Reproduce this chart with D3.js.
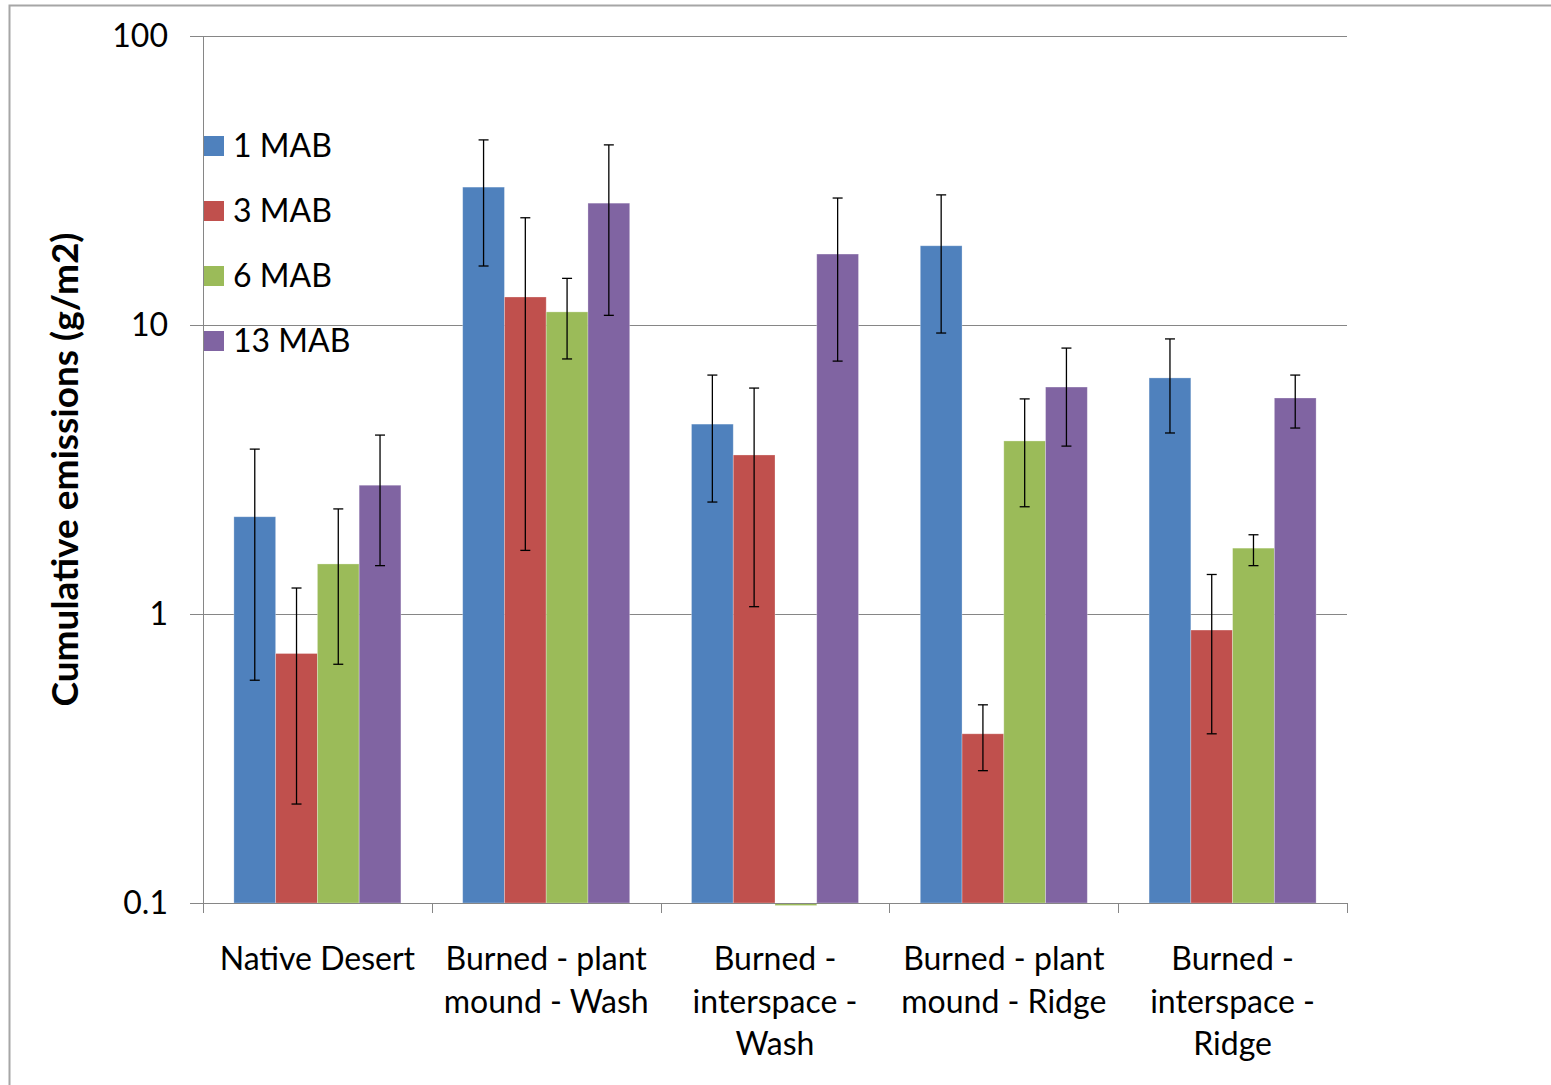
<!DOCTYPE html>
<html>
<head>
<meta charset="utf-8">
<script src="https://cdn.jsdelivr.net/npm/d3@7"></script>
<style>
  body { margin: 0; background: #fff; }
  svg { display: block; font-family: Lato, "Open Sans", sans-serif; }
</style>
</head>
<body>
<div id="chart"></div>
<script>
// categories and series
const categories = [
  ["Native Desert"],
  ["Burned - plant", "mound - Wash"],
  ["Burned -", "interspace -", "Wash"],
  ["Burned - plant", "mound - Ridge"],
  ["Burned -", "interspace -", "Ridge"]
];
const seriesNames = ["1 MAB", "3 MAB", "6 MAB", "13 MAB"];
const seriesColors = ["#4F81BD", "#C0504D", "#9BBB59", "#8064A2"];

// values per series (one per category)
const mab1 = [2.17, 30.0, 4.54, 18.8, 6.56];
const mab3 = [0.73, 12.5, 3.55, 0.385, 0.88];
const mab6 = [1.49, 11.1, 0.098, 3.97, 1.69];
const mab13 = [2.79, 26.4, 17.6, 6.10, 5.59];

// error bar ends (upper, lower)
const mab1Hi = [3.72, 43.7, 6.71, 28.2, 8.95];
const mab1Lo = [0.59, 16.0, 2.44, 9.38, 4.23];
const mab3Hi = [1.23, 23.5, 6.05, 0.485, 1.37];
const mab3Lo = [0.22, 1.66, 1.06, 0.287, 0.385];
const mab6Hi = [2.31, 14.5, null, 5.55, 1.88];
const mab6Lo = [0.67, 7.63, null, 2.35, 1.47];
const mab13Hi = [4.16, 42.0, 27.5, 8.32, 6.71];
const mab13Lo = [1.47, 10.8, 7.5, 3.81, 4.40];

const yTicks = [0.1, 1, 10, 100];
const yTitle = "Cumulative emissions (g/m2)";

const values = [mab1, mab3, mab6, mab13];
const his = [mab1Hi, mab3Hi, mab6Hi, mab13Hi];
const los = [mab1Lo, mab3Lo, mab6Lo, mab13Lo];

const width = 1551, height = 1085;
const plot = {left: 203, right: 1347, top: 36, bottom: 903};
const fontSize = 32;

const svg = d3.select("#chart").append("svg")
    .attr("width", width)
    .attr("height", height);

// outer chart frame (runs off the page on right/bottom)
svg.append("rect")
    .attr("x", 9.5).attr("y", 5.5)
    .attr("width", 1700).attr("height", 1200)
    .attr("fill", "none")
    .attr("stroke", "#a6a6a6")
    .attr("stroke-width", 2);

const y = d3.scaleLog()
    .domain([0.1, 100])
    .range([plot.bottom, plot.top]);

const x0 = d3.scaleBand()
    .domain(d3.range(categories.length))
    .range([plot.left, plot.right])
    .padding(0);

const gap = x0.bandwidth() * 0.135;
const x1 = d3.scaleBand()
    .domain(d3.range(seriesNames.length))
    .range([gap, x0.bandwidth() - gap])
    .padding(0);

// gridlines + y ticks
svg.append("g")
  .selectAll("line")
  .data(yTicks)
  .join("line")
    .attr("x1", plot.left - 13)
    .attr("x2", plot.right)
    .attr("y1", d => Math.round(y(d)) + 0.5)
    .attr("y2", d => Math.round(y(d)) + 0.5)
    .attr("stroke", "#868686")
    .attr("stroke-width", 1);

svg.append("g")
  .selectAll("text")
  .data(yTicks)
  .join("text")
    .attr("x", plot.left - 35)
    .attr("y", d => y(d))
    .attr("dy", "0.35em")
    .attr("text-anchor", "end")
    .attr("font-size", fontSize)
    .attr("fill", "#000")
    .text(d => d3.format("")(d));

// bars
const bars = svg.append("g");
values.forEach(function(vals, s) {
    bars.append("g")
      .selectAll("rect")
      .data(vals)
      .join("rect")
        .attr("x", (d, i) => x0(i) + x1(s))
        .attr("width", x1.bandwidth())
        .attr("y", d => Math.min(y(d), y(0.1)))
        .attr("height", d => Math.max(Math.abs(y(0.1) - y(d)), 0))
        .attr("fill", seriesColors[s])
        .attr("stroke", "#fff")
        .attr("stroke-opacity", 0.35)
        .attr("stroke-width", 0.8);
});

// axes lines
svg.append("line")
    .attr("x1", plot.left + 0.5).attr("x2", plot.left + 0.5)
    .attr("y1", plot.top).attr("y2", plot.bottom + 10)
    .attr("stroke", "#868686");
svg.append("line")
    .attr("x1", plot.left - 13).attr("x2", plot.right + 1)
    .attr("y1", plot.bottom + 0.5).attr("y2", plot.bottom + 0.5)
    .attr("stroke", "#868686");

// x ticks at category boundaries
svg.append("g")
  .selectAll("line")
  .data(d3.range(categories.length + 1))
  .join("line")
    .attr("x1", i => Math.round(plot.left + i * x0.step()) + 0.5)
    .attr("x2", i => Math.round(plot.left + i * x0.step()) + 0.5)
    .attr("y1", plot.bottom)
    .attr("y2", plot.bottom + 10)
    .attr("stroke", "#868686");

// error bars
const err = svg.append("g").attr("stroke", "#000").attr("stroke-width", 1.3);
values.forEach(function(vals, s) {
    vals.forEach(function(v, i) {
        if (his[s][i] == null) return;
        const cx = x0(i) + x1(s) + x1.bandwidth() / 2;
        const yh = y(his[s][i]), yl = y(los[s][i]);
        err.append("line").attr("x1", cx).attr("x2", cx).attr("y1", yh).attr("y2", yl);
        err.append("line").attr("x1", cx - 5).attr("x2", cx + 5).attr("y1", yh).attr("y2", yh);
        err.append("line").attr("x1", cx - 5).attr("x2", cx + 5).attr("y1", yl).attr("y2", yl);
    });
});

// category labels
const catG = svg.append("g");
categories.forEach(function(lines, i) {
    const t = catG.append("text")
        .attr("x", x0(i) + x0.bandwidth() / 2)
        .attr("y", 959)
        .attr("text-anchor", "middle")
        .attr("font-size", fontSize)
        .attr("fill", "#000");
    lines.forEach(function(l, k) {
        t.append("tspan")
            .attr("x", x0(i) + x0.bandwidth() / 2)
            .attr("y", 959 + k * 42.5)
            .attr("dy", "0.35em")
            .text(l);
    });
});

// legend
const legend = svg.append("g").attr("transform", "translate(204,146)");
seriesNames.forEach(function(name, s) {
    const g = legend.append("g").attr("transform", `translate(0,${s * 65})`);
    g.append("rect")
        .attr("x", 0).attr("y", -10)
        .attr("width", 20).attr("height", 20)
        .attr("fill", seriesColors[s]);
    g.append("text")
        .attr("x", 29).attr("y", 0)
        .attr("dy", "0.35em")
        .attr("font-size", fontSize)
        .attr("fill", "#000")
        .text(name);
});

// y axis title
svg.append("text")
    .attr("transform", `translate(65,${(plot.top + plot.bottom) / 2}) rotate(-90)`)
    .attr("text-anchor", "middle")
    .attr("dy", "0.35em")
    .attr("font-size", 37)
    .attr("font-weight", "bold")
    .attr("fill", "#000")
    .text(yTitle);
</script>
</body>
</html>
